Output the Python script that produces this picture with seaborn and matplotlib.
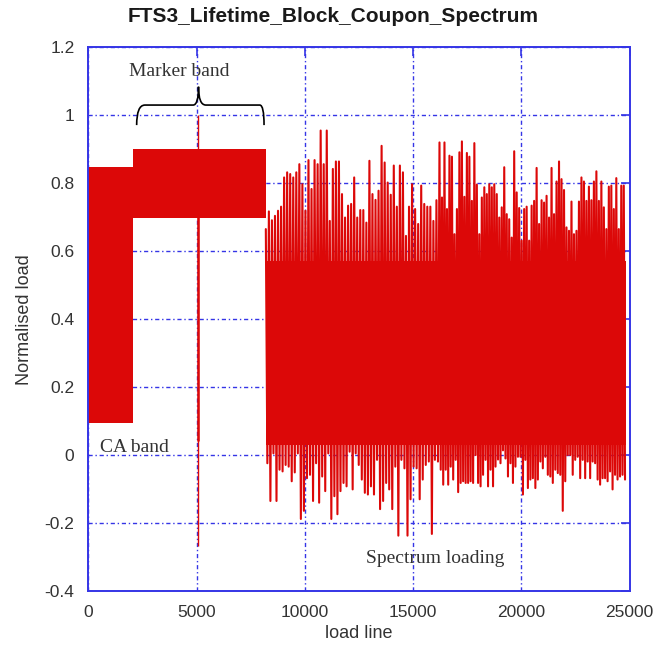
import numpy as np
import pandas as pd
import matplotlib
matplotlib.use("Agg")
import matplotlib.pyplot as plt
from matplotlib.path import Path
from matplotlib.patches import PathPatch
import seaborn as sns

# ---------------- data ----------------
title = "FTS3_Lifetime_Block_Coupon_Spectrum"
x_label = "load line"
y_label = "Normalised load"

# constant-amplitude (CA) block
ca_range = [0, 2080]
ca_min, ca_max = 0.095, 0.849
# marker band block
marker_range = [2080, 8185]
marker_min, marker_max = 0.699, 0.902
# single marker spike inside the marker band
spike_x = 5074
spike_min, spike_max = -0.267, 1.0
spike_core_min, spike_core_max = 0.04, 0.70

# dense core of the spectrum (where cycles overlap into a solid band)
spec_core_range = [8200, 24850]
spec_core_min, spec_core_max = 0.03, 0.57

# spectrum turning points (peak/trough pairs), two stretches of the load line
spec1_range = [8200, 16222]
spec1_peaks = [0.665, 0.717, 0.691, 0.704, 0.719, 0.731, 0.817, 0.832, 0.827, 0.817,
               0.832, 0.856, 0.797, 0.719, 0.868, 0.783, 0.868, 0.856, 0.955, 0.856,
               0.955, 0.689, 0.842, 0.864, 0.864, 0.768, 0.699, 0.734, 0.739, 0.817,
               0.699, 0.721, 0.721, 0.684, 0.866, 0.768, 0.751, 0.778, 0.910, 0.861,
               0.802, 0.766, 0.852, 0.731, 0.852, 0.832, 0.645, 0.731, 0.797, 0.724,
               0.680, 0.793, 0.739, 0.731, 0.731, 0.689, 0.750]
spec1_troughs = [-0.024, -0.135, 0.005, -0.135, -0.043, -0.048, -0.029, -0.034, -0.077, -0.051,
                 0.005, -0.188, -0.164, -0.068, -0.058, -0.135, -0.024, -0.140, -0.063, -0.106,
                 0.005, -0.188, -0.121, -0.174, -0.106, -0.082, -0.092, 0.010, -0.101, 0.005,
                 -0.029, -0.072, -0.111, -0.116, -0.092, -0.116, -0.014, -0.159, -0.135, -0.082,
                 -0.101, -0.159, -0.034, -0.237, -0.014, -0.039, -0.237, -0.130, -0.034, -0.039,
                 -0.130, -0.072, -0.029, -0.019, -0.232, -0.014, -0.019]

spec2_range = [16222, 24850]
spec2_peaks = [0.920, 0.758, 0.920, 0.724, 0.881, 0.878, 0.650, 0.724, 0.891, 0.923,
               0.760, 0.889, 0.878, 0.748, 0.918, 0.796, 0.650, 0.758, 0.788, 0.768,
               0.797, 0.788, 0.797, 0.768, 0.699, 0.729, 0.847, 0.709, 0.694, 0.640,
               0.894, 0.773, 0.727, 0.631, 0.724, 0.731, 0.631, 0.734, 0.748, 0.845,
               0.680, 0.750, 0.743, 0.763, 0.699, 0.845, 0.709, 0.805, 0.864, 0.812,
               0.780, 0.670, 0.660, 0.746, 0.650, 0.660, 0.746, 0.817, 0.805, 0.748,
               0.790, 0.750, 0.805, 0.835, 0.748, 0.805, 0.729, 0.665, 0.790, 0.793,
               0.724, 0.815, 0.665, 0.793, 0.793]
spec2_troughs = [-0.043, -0.087, -0.043, -0.087, -0.034, -0.072, -0.014, -0.109, -0.082, -0.077,
                 -0.082, -0.082, -0.077, -0.082, 0.000, -0.082, -0.092, -0.058, -0.014, -0.092,
                 -0.043, -0.092, -0.034, -0.013, -0.024, 0.014, -0.010, -0.063, -0.024, -0.082,
                 -0.034, -0.005, -0.005, -0.116, -0.014, -0.097, -0.072, -0.068, -0.097, -0.072,
                 -0.019, -0.039, -0.005, -0.058, -0.063, -0.082, -0.043, -0.053, -0.058, -0.164,
                 -0.077, 0.000, 0.000, -0.058, -0.014, -0.005, -0.068, -0.014, -0.068, -0.019,
                 -0.068, -0.019, -0.024, -0.072, -0.087, -0.068, -0.068, -0.077, -0.048, -0.101,
                 -0.058, -0.072, -0.063, -0.058, -0.072]

x_ticks = [0, 5000, 10000, 15000, 20000, 25000]
x_tick_labels = ["0", "5000", "10000", "15000", "20000", "25000"]
y_ticks = [-0.4, -0.2, 0, 0.2, 0.4, 0.6, 0.8, 1.0, 1.2]
y_tick_labels = ["-0.4", "-0.2", "0", "0.2", "0.4", "0.6", "0.8", "1", "1.2"]


def turning_points(rng, peaks, troughs):
    n = len(peaks)
    step = (rng[1] - rng[0]) / n
    xs, ys = [], []
    for i in range(n):
        xs += [rng[0] + i * step, rng[0] + (i + 0.5) * step]
        ys += [peaks[i], troughs[i]]
    return xs, ys


x1, y1 = turning_points(spec1_range, spec1_peaks, spec1_troughs)
x2, y2 = turning_points(spec2_range, spec2_peaks, spec2_troughs)
spectrum = pd.DataFrame({"load_line": x1 + x2, "load": y1 + y2})

# ---------------- style ----------------
RED = "#dc0808"
BLUE = "#3535e6"
TXT = "#333333"

sns.set_style("white")
plt.rcParams["font.family"] = ["Liberation Sans", "DejaVu Sans"]

fig = plt.figure(figsize=(6.67, 6.54), dpi=100)
ax = fig.add_axes([0.1324, 0.0963, 0.9438 - 0.1324, 0.9277 - 0.0963])

# blocks
ax.fill_between(ca_range, ca_min, ca_max, color=RED, lw=0, zorder=2)
ax.fill_between(marker_range, marker_min, marker_max, color=RED, lw=0, zorder=2)
ax.fill_between(spec_core_range, spec_core_min, spec_core_max, color=RED, lw=0, zorder=2)
ax.vlines(spike_x, spike_min, spike_max, color=RED, lw=1.0, zorder=3)
ax.vlines(spike_x, spike_core_min, spike_core_max, color=RED, lw=1.8, zorder=3)

# spectrum
sns.lineplot(data=spectrum, x="load_line", y="load", sort=False, estimator=None,
             color=RED, lw=1.5, ax=ax, zorder=2)

ax.set_xlim(0, 25000)
ax.set_ylim(-0.4, 1.2)
ax.set_xticks(x_ticks)
ax.set_xticklabels(x_tick_labels)
ax.set_yticks(y_ticks)
ax.set_yticklabels(y_tick_labels)

ax.set_axisbelow(True)
ax.grid(True, color=BLUE, lw=1.0, linestyle=(0, (3, 2, 1, 2)))
for s in ax.spines.values():
    s.set_color(BLUE)
    s.set_linewidth(1.4)
    s.set_visible(True)
ax.tick_params(axis="both", direction="in", top=True, right=True, length=6.5,
               width=1.2, color=BLUE, labelcolor=TXT, labelsize=12.5)
ax.tick_params(axis="x", pad=10)
ax.tick_params(axis="y", pad=10)

ax.set_xlabel(x_label, fontsize=13, color=TXT, labelpad=4)
ax.set_ylabel(y_label, fontsize=13, color=TXT, labelpad=8)
fig.text(0.5, 1 - 17 / 654, title, ha="center", va="center", fontsize=15,
         fontweight="bold", color="#1a1a1a")

# brace over marker band
brace_verts = [(2233, 0.971), (2233, 1.030), (2615, 1.030),
               (4843, 1.030),
               (5090, 1.030), (5090, 1.084),
               (5090, 1.030), (5429, 1.030),
               (7920, 1.030),
               (8118, 1.030), (8118, 0.971)]
brace_codes = [Path.MOVETO, Path.CURVE3, Path.CURVE3,
               Path.LINETO,
               Path.CURVE3, Path.CURVE3,
               Path.CURVE3, Path.CURVE3,
               Path.LINETO,
               Path.CURVE3, Path.CURVE3]
ax.add_patch(PathPatch(Path(brace_verts, brace_codes), fill=False,
                       edgecolor="black", lw=1.2, zorder=4))

serif = ["Liberation Serif", "DejaVu Serif"]
ax.text(4184, 1.116, "Marker band", ha="center", va="baseline", fontsize=14,
        family=serif, color=TXT)
ax.text(540, 0.010, "CA band", ha="left", va="baseline", fontsize=14,
        family=serif, color=TXT)
ax.text(12850, -0.318, "Spectrum loading", ha="left", va="baseline", fontsize=14,
        family=serif, color=TXT)

fig.savefig("out.png", dpi=100)
